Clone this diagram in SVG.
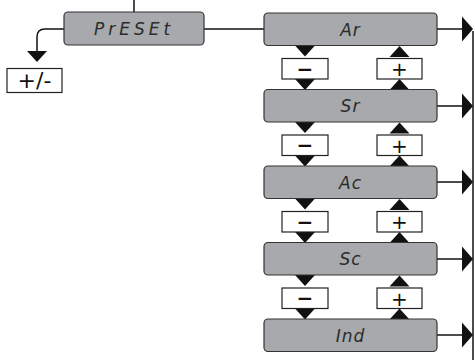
<svg xmlns="http://www.w3.org/2000/svg" width="475" height="360" viewBox="0 0 475 360">
<style>
.node{fill:#a7a9ac;stroke:#333;stroke-width:1.2}
.lbl{font-family:"DejaVu Sans",sans-serif;font-style:italic;font-size:17px;fill:#2b2b2b;text-anchor:middle;letter-spacing:1px}
.btn{fill:#fff;stroke:#222;stroke-width:1.2}
.bt{font-family:"DejaVu Sans",sans-serif;font-size:20px;fill:#111;text-anchor:middle}
.ln{stroke:#111;stroke-width:1.5;fill:none}
.tri{fill:#111}
</style>
<defs>
<polygon id="dn" class="tri" points="-10,0 10,0 0,11"/>
<polygon id="up" class="tri" points="-10,11 10,11 0,0"/>
<polygon id="rt" class="tri" points="0,-12.5 11,0 0,12.5"/>
</defs>
<g id="connectors">
<line class="ln" x1="134" y1="0" x2="134" y2="12"/>
<line class="ln" x1="204" y1="29" x2="264" y2="29"/>
<path class="ln" d="M64,29 H45 Q37,29 37,37 V52"/>
<use href="#dn" x="37" y="51"/>
<line class="ln" x1="473" y1="31" x2="473" y2="360"/>
<line class="ln" x1="437" y1="29" x2="463" y2="29"/>
<use href="#rt" x="462" y="29"/>
<line class="ln" x1="437" y1="106" x2="463" y2="106"/>
<use href="#rt" x="462" y="106"/>
<line class="ln" x1="437" y1="182" x2="463" y2="182"/>
<use href="#rt" x="462" y="182"/>
<line class="ln" x1="437" y1="259" x2="463" y2="259"/>
<use href="#rt" x="462" y="259"/>
<line class="ln" x1="437" y1="335" x2="463" y2="335"/>
<use href="#rt" x="462" y="335"/>
<use href="#dn" x="305" y="45.5"/><use href="#dn" x="305" y="79"/>
<use href="#up" x="399.5" y="46"/><use href="#up" x="399.5" y="79"/>
<use href="#dn" x="305" y="122"/><use href="#dn" x="305" y="155.5"/>
<use href="#up" x="399.5" y="122.5"/><use href="#up" x="399.5" y="155.5"/>
<use href="#dn" x="305" y="198.5"/><use href="#dn" x="305" y="232"/>
<use href="#up" x="399.5" y="199"/><use href="#up" x="399.5" y="232"/>
<use href="#dn" x="305" y="275"/><use href="#dn" x="305" y="308.5"/>
<use href="#up" x="399.5" y="275.5"/><use href="#up" x="399.5" y="308.5"/>
</g>
<g id="preset"><rect class="node" x="64" y="12" width="140" height="33" rx="4"/><text class="lbl" x="134" y="35" style="letter-spacing:4px">PrESEt</text></g>
<g id="pm"><rect class="btn" x="7" y="68.5" width="55" height="24"/><text class="bt" x="34.5" y="88" style="font-size:22px">+/-</text></g>
<g id="ar"><rect class="node" x="264" y="13" width="173" height="32.5" rx="4"/><text class="lbl" x="350.5" y="35.5">Ar</text></g>
<g id="sr"><rect class="node" x="264" y="89.5" width="173" height="32.5" rx="4"/><text class="lbl" x="350.5" y="112">Sr</text></g>
<g id="ac"><rect class="node" x="264" y="166" width="173" height="32.5" rx="4"/><text class="lbl" x="350.5" y="188.5">Ac</text></g>
<g id="sc"><rect class="node" x="264" y="242.5" width="173" height="32.5" rx="4"/><text class="lbl" x="350.5" y="265">Sc</text></g>
<g id="ind"><rect class="node" x="264" y="319" width="173" height="32.5" rx="4"/><text class="lbl" x="350.5" y="341.5">Ind</text></g>
<g id="m1"><rect class="btn" x="282" y="58.5" width="46" height="20.5"/><text class="bt" x="305" y="75.5" font-weight="bold">−</text></g>
<g id="p1"><rect class="btn" x="377" y="58.5" width="45" height="20.5"/><text class="bt" x="399.5" y="76">+</text></g>
<g id="m2"><rect class="btn" x="282" y="135" width="46" height="20.5"/><text class="bt" x="305" y="152" font-weight="bold">−</text></g>
<g id="p2"><rect class="btn" x="377" y="135" width="45" height="20.5"/><text class="bt" x="399.5" y="152.5">+</text></g>
<g id="m3"><rect class="btn" x="282" y="211.5" width="46" height="20.5"/><text class="bt" x="305" y="228.5" font-weight="bold">−</text></g>
<g id="p3"><rect class="btn" x="377" y="211.5" width="45" height="20.5"/><text class="bt" x="399.5" y="229">+</text></g>
<g id="m4"><rect class="btn" x="282" y="288" width="46" height="20.5"/><text class="bt" x="305" y="305" font-weight="bold">−</text></g>
<g id="p4"><rect class="btn" x="377" y="288" width="45" height="20.5"/><text class="bt" x="399.5" y="305.5">+</text></g>
</svg>
